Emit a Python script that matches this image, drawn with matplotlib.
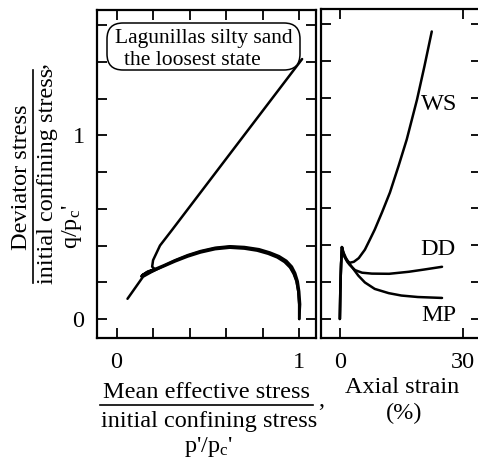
import matplotlib
matplotlib.use("Agg")
import matplotlib.pyplot as plt
from matplotlib.lines import Line2D
from matplotlib.patches import FancyBboxPatch
from matplotlib.ticker import FixedLocator, FixedFormatter

plt.rcParams["font.family"] = ["Liberation Serif", "DejaVu Serif"]
plt.rcParams["mathtext.fontset"] = "custom"
plt.rcParams["mathtext.rm"] = "Liberation Serif"
plt.rcParams["mathtext.it"] = "Liberation Serif:italic"

# stress paths p'/pc' vs q/pc'
p_ws = [1.00, 1.00, 0.995, 0.985, 0.97, 0.95, 0.92, 0.88, 0.83, 0.77, 0.70, 0.62, 0.54, 0.46, 0.39,
        0.32, 0.26, 0.20, 0.16, 0.135, 0.17, 0.21, 0.195, 0.20, 0.238, 0.304, 0.62, 1.016]
q_ws = [0.00, 0.08, 0.15, 0.205, 0.245, 0.28, 0.31, 0.335, 0.355, 0.372, 0.383, 0.388, 0.38, 0.362, 0.34,
        0.313, 0.287, 0.262, 0.245, 0.232, 0.25, 0.27, 0.285, 0.32, 0.40, 0.485, 0.898, 1.415]
p_dd = [1.00, 1.005, 1.0, 0.992, 0.978, 0.96, 0.93, 0.89, 0.84, 0.78, 0.70, 0.62, 0.54, 0.46, 0.39,
        0.32, 0.26, 0.20, 0.16, 0.14, 0.17, 0.21]
q_dd = [0.00, 0.08, 0.15, 0.205, 0.25, 0.285, 0.317, 0.342, 0.362, 0.38, 0.392, 0.396, 0.388, 0.37, 0.348,
        0.32, 0.293, 0.268, 0.25, 0.238, 0.258, 0.272]
p_mp = [1.00, 1.00, 0.995, 0.985, 0.97, 0.95, 0.92, 0.88, 0.83, 0.77, 0.70, 0.62, 0.54, 0.46, 0.39,
        0.32, 0.25, 0.19, 0.145, 0.06]
q_mp = [0.00, 0.08, 0.15, 0.21, 0.25, 0.285, 0.315, 0.34, 0.36, 0.377, 0.388, 0.393, 0.385, 0.367, 0.345,
        0.318, 0.285, 0.255, 0.23, 0.11]

# q/pc' vs axial strain (%)
eps_ws = [0.0, 0.1, 0.3, 0.5, 0.8, 1.2, 1.8, 2.4, 3.4, 4.6, 6.1, 7.3, 8.5, 10.3, 12.2, 14.3, 16.3, 18.8, 20.6, 22.4]
qs_ws = [0.0, 0.15, 0.30, 0.39, 0.36, 0.335, 0.315, 0.305, 0.31, 0.33, 0.376, 0.43, 0.485, 0.58, 0.686, 0.83,
         0.974, 1.19, 1.37, 1.56]
eps_dd = [0.0, 0.1, 0.3, 0.5, 0.8, 1.2, 1.8, 2.4, 3.7, 5.4, 7.8, 12.0, 16.8, 20.5, 24.9]
qs_dd = [0.0, 0.15, 0.30, 0.39, 0.36, 0.335, 0.31, 0.293, 0.265, 0.251, 0.246, 0.245, 0.256, 0.268, 0.283]
eps_mp = [0.0, 0.1, 0.3, 0.5, 0.9, 1.5, 2.2, 2.9, 4.5, 6.1, 8.5, 11.9, 15.0, 19.0, 24.9]
qs_mp = [0.0, 0.15, 0.30, 0.39, 0.36, 0.33, 0.305, 0.283, 0.235, 0.198, 0.163, 0.14, 0.127, 0.119, 0.114]

q_ticks = [0, 0.2, 0.4, 0.6, 0.8, 1.0, 1.2, 1.4, 1.6]
q_labels = ["0", "", "", "", "", "1", "", "", ""]
p_ticks = [0, 0.2, 0.4, 0.6, 0.8, 1.0]
p_labels = ["0", "", "", "", "", "1"]
eps_ticks = [0, 30]
eps_labels = ["0", "30"]

W, H = 478, 465
fig = plt.figure(figsize=(W / 100, H / 100), dpi=100)


def frac(x0, y0, x1, y1):
    # pixel box (top-left origin) -> figure fraction rect
    return [x0 / W, 1 - y1 / H, (x1 - x0) / W, (y1 - y0) / H]


def px(x, y):
    return x / 100, (H - y) / 100


ax1 = fig.add_axes(frac(97, 10, 316, 338))
ax2 = fig.add_axes(frac(321, 9, 481, 338))

lw = 1.8
for p, q in [(p_mp, q_mp), (p_dd, q_dd), (p_ws, q_ws)]:
    ax1.plot(p, q, color="black", lw=lw, solid_joinstyle="round", solid_capstyle="round")
for e, q in [(eps_mp, qs_mp), (eps_dd, qs_dd), (eps_ws, qs_ws)]:
    ax2.plot(e, q, color="black", lw=lw, solid_joinstyle="round", solid_capstyle="round")

ax1.set_xlim(-0.107, 1.092)
ax1.set_ylim(-0.1034, 1.682)
ax2.set_xlim(-4.6, 34.4)
ax2.set_ylim(-0.1034, 1.682)

for ax in (ax1, ax2):
    for s in ax.spines.values():
        s.set_linewidth(1.6)
    ax.tick_params(direction="in", length=7.5, width=1.3, top=True, right=True,
                   labelsize=17.5)
    ax.yaxis.set_major_locator(FixedLocator(q_ticks))

ax1.xaxis.set_major_locator(FixedLocator(p_ticks))
ax1.xaxis.set_major_formatter(FixedFormatter(p_labels))
ax1.yaxis.set_major_formatter(FixedFormatter(q_labels))
ax1.tick_params(axis="x", pad=10)
ax1.tick_params(axis="y", pad=9)

ax2.xaxis.set_major_locator(FixedLocator(eps_ticks))
ax2.xaxis.set_major_formatter(FixedFormatter(eps_labels))
ax2.tick_params(axis="x", pad=10)
ax2.tick_params(axis="y", labelleft=False)

tr = fig.dpi_scale_trans
fs = 17.5

# x label of left panel (fraction)
fig.text(*px(207, 392), "Mean effective stress", transform=tr, ha="center", va="center", fontsize=fs)
fig.add_artist(Line2D([1.00, 3.13], [(H - 405) / 100] * 2, transform=tr, color="black", lw=1.2))
fig.text(*px(209, 421), "initial confining stress", transform=tr, ha="center", va="center", fontsize=fs)
fig.text(*px(321, 400), ",", transform=tr, ha="center", va="center", fontsize=fs)
fig.text(*px(208, 447), "p'/p$_{\\rm c}$'", transform=tr, ha="center", va="center", fontsize=fs)

# x label of right panel
fig.text(*px(402, 387), "Axial strain", transform=tr, ha="center", va="center", fontsize=fs)
fig.text(*px(404, 413), "(%)", transform=tr, ha="center", va="center", fontsize=fs)

# y label (fraction, rotated)
fig.text(*px(22, 177), "Deviator stress", transform=tr, ha="center", va="center", fontsize=fs, rotation=90)
fig.add_artist(Line2D([0.33, 0.33], [(H - 283) / 100, (H - 70) / 100], transform=tr, color="black", lw=1.2))
fig.text(*px(48, 176), "initial confining stress", transform=tr, ha="center", va="center", fontsize=fs, rotation=90)
fig.text(*px(40, 66), ",", transform=tr, ha="center", va="center", fontsize=fs, rotation=90)
fig.text(*px(72, 227), "q/p$_{\\rm c}$'", transform=tr, ha="center", va="center", fontsize=fs, rotation=90)

# curve labels
fig.text(*px(439, 104), "WS", transform=tr, ha="center", va="center", fontsize=fs)
fig.text(*px(438, 249), "DD", transform=tr, ha="center", va="center", fontsize=fs)
fig.text(*px(439, 315), "MP", transform=tr, ha="center", va="center", fontsize=fs)

# rounded annotation box
x0, y0 = px(107, 70)
box = FancyBboxPatch((x0, y0), 1.93, 0.47, boxstyle="round,pad=0,rounding_size=0.16",
                     transform=tr, fc="white", ec="black", lw=1.1, zorder=5)
fig.add_artist(box)
fig.text(*px(204, 38), "Lagunillas silty sand", transform=tr, ha="center", va="center", fontsize=15.5, zorder=6)
fig.text(*px(192, 60), "the loosest state", transform=tr, ha="center", va="center", fontsize=15.5, zorder=6)

fig.savefig("out.png", dpi=100)
